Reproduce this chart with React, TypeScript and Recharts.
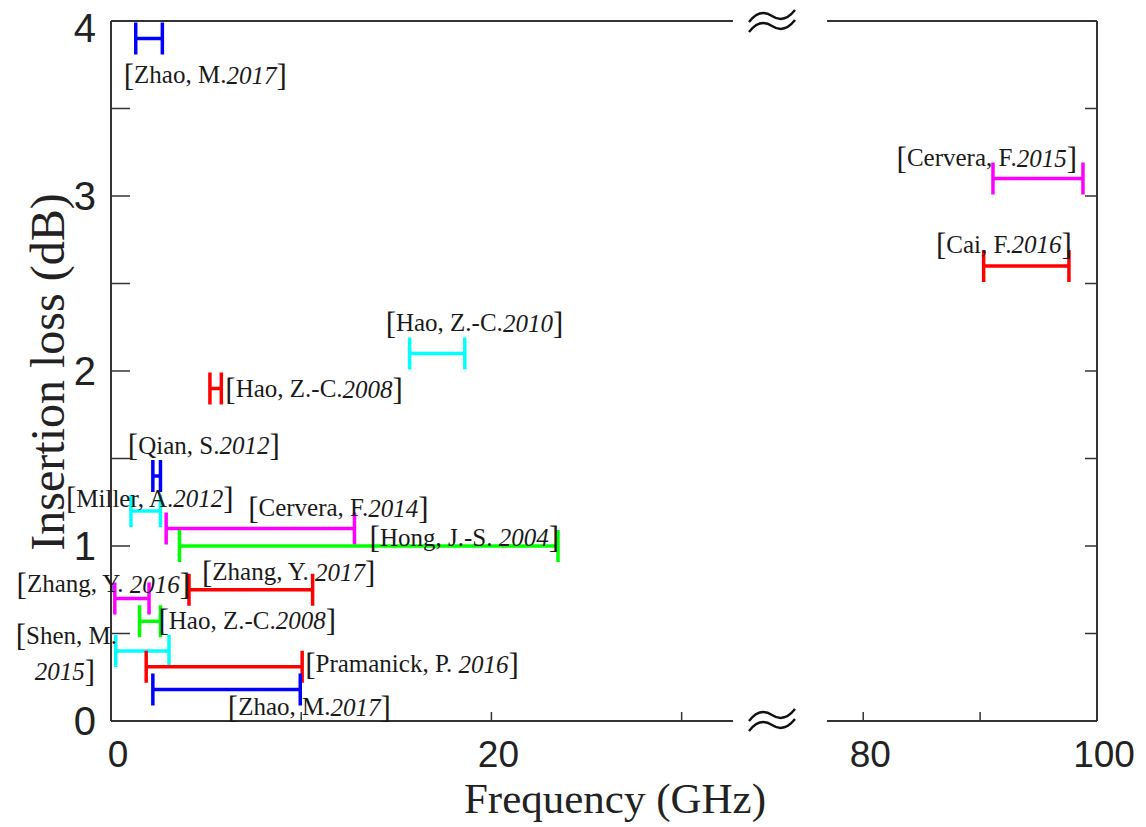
import { ErrorBar, Scatter, ScatterChart, XAxis, YAxis } from "recharts";

// one entry per cited work, same order in every array
const authors = [
  "Zhao, M.", "Cervera, F.", "Cai, F.", "Hao, Z.-C.", "Hao, Z.-C.",
  "Qian, S.", "Miller,  A.", "Cervera, F.", "Hong, J.-S. ", "Zhang, Y. ",
  "Zhang, Y. ", "Hao, Z.-C.", "Shen, M.", "Pramanick, P. ", "Zhao, M.",
];
const years = ["2017", "2015", "2016", "2010", "2008", "2012", "2012", "2014", "2004", "2017", "2016", "2008", "2015", "2016", "2017"];
const lossDb = [3.9, 3.1, 2.6, 2.1, 1.9, 1.4, 1.2, 1.1, 1.0, 0.75, 0.7, 0.57, 0.4, 0.31, 0.18];
const fLowGHz = [1.3, 91.1, 90.3, 15.7, 5.2, 2.2, 1.05, 2.9, 3.6, 4.1, 0.2, 1.5, 0.25, 1.85, 2.2];
const fHighGHz = [2.7, 98.8, 97.6, 18.6, 5.8, 2.6, 2.6, 12.8, 23.5, 10.6, 2.0, 2.6, 3.05, 10.05, 9.95];

const leftDomain = [0, 32.7];
const rightDomain = [76.9, 100];
const leftXTicks = [0, 10, 20, 30];
const leftXLabels = [0, 20];
const rightXTicks = [80, 90, 100];
const rightXLabels = [80, 100];
const yTicks = [0, 0.5, 1, 1.5, 2, 2.5, 3, 3.5, 4];
const yLabels = [0, 1, 2, 3, 4];

const BLUE = "#0000FF";
const RED = "#FF0000";
const MAGENTA = "#FF00FF";
const CYAN = "#00FFFF";
const GREEN = "#00FF00";
const barColors = [BLUE, MAGENTA, RED, CYAN, RED, BLUE, CYAN, MAGENTA, GREEN, RED, MAGENTA, GREEN, CYAN, RED, BLUE];

// where each citation sits relative to its bar (pixels)
const labelPlacement = [
  { ref: "lo", anchor: "start", dx: -12, dy: 36 },
  { ref: "hi", anchor: "end", dx: -6, dy: -21 },
  { ref: "hi", anchor: "end", dx: 3, dy: -22 },
  { ref: "lo", anchor: "start", dx: -24, dy: -31 },
  { ref: "hi", anchor: "start", dx: 4, dy: 0 },
  { ref: "lo", anchor: "start", dx: -25, dy: -31 },
  { ref: "lo", anchor: "start", dx: -65, dy: -13 },
  { ref: "lo", anchor: "start", dx: 82, dy: -21 },
  { ref: "hi", anchor: "end", dx: 1, dy: -9 },
  { ref: "lo", anchor: "start", dx: 13, dy: -18 },
  { ref: "hi", anchor: "end", dx: 41, dy: -15 },
  { ref: "hi", anchor: "start", dx: -2, dy: -1 },
  { ref: "lo", anchor: "start", dx: -100, dy: -16, wrapDx: -81, wrapDy: 20 },
  { ref: "hi", anchor: "start", dx: 3, dy: -3 },
  { ref: "lo", anchor: "start", dx: 75, dy: 17 },
];

const frame = "#333";
const serif = "'Liberation Serif', 'Times New Roman', serif";
const sans = "'Liberation Sans', Arial, sans-serif";
const H = 827;

const Bracket = ({ c }: { c: string }) => <tspan fontSize={31}>{c}</tspan>;

function CiteLabel(props: any) {
  const { cx, cy, payload } = props;
  const i = payload.i;
  const p: any = labelPlacement[i];
  const common = {
    textAnchor: p.anchor,
    dominantBaseline: "central",
    fontFamily: serif,
    fontSize: 25,
    fill: "#1a1a1a",
  } as any;
  if (p.wrapDx !== undefined) {
    return (
      <g>
        <text x={cx + p.dx} y={cy + p.dy} {...common}>
          <Bracket c="[" />
          {authors[i]}
        </text>
        <text x={cx + p.wrapDx} y={cy + p.wrapDy} {...common}>
          <tspan fontStyle="italic">{years[i]}</tspan>
          <Bracket c="]" />
        </text>
      </g>
    );
  }
  return (
    <text x={cx + p.dx} y={cy + p.dy} {...common}>
      <Bracket c="[" />
      {authors[i]}
      <tspan fontStyle="italic">{years[i]}</tspan>
      <Bracket c="]" />
    </text>
  );
}

const makeXTick = (labels: number[], up: number) => (props: any) => {
  const { x, y, payload } = props;
  return (
    <g>
      <line x1={x} y1={y} x2={x} y2={y + up} stroke={frame} strokeWidth={1.5} />
      {labels.includes(payload.value) && (
        <text x={x + 7} y={y + 33} textAnchor="middle" dominantBaseline="central" fontFamily={sans} fontSize={37} fill="#222">
          {payload.value}
        </text>
      )}
    </g>
  );
};

const YTickLeft = (props: any) => {
  const { x, y, payload } = props;
  return (
    <g>
      <line x1={x} y1={y} x2={x + 19} y2={y} stroke={frame} strokeWidth={1.5} />
      {yLabels.includes(payload.value) && (
        <text x={x - 15} y={y + (payload.value === 4 ? 7 : 0)} textAnchor="end" dominantBaseline="central" fontFamily={sans} fontSize={40} fill="#222">
          {payload.value}
        </text>
      )}
    </g>
  );
};

const YTickRight = (props: any) => {
  const { x, y } = props;
  return <line x1={x} y1={y} x2={x - 12} y2={y} stroke={frame} strokeWidth={1.5} />;
};

function Panel({ left, width, margin, domain, xTicks, xLabels, side }: any) {
  const idx = lossDb.map((_, i) => i).filter((i) => fLowGHz[i] >= domain[0] && fHighGHz[i] <= domain[1]);
  const axisLine = { stroke: frame, strokeWidth: 2 };
  return (
    <div style={{ position: "absolute", left, top: 0 }}>
      <ScatterChart width={width} height={H} margin={margin}>
        <XAxis type="number" dataKey="x" domain={domain} ticks={xTicks} interval={0} height={1} tickSize={0} tickMargin={0}
          axisLine={axisLine} tickLine={false} tick={makeXTick(xLabels, -9)} />
        <XAxis xAxisId="top" orientation="top" type="number" dataKey="x" domain={domain} ticks={xTicks} interval={0} height={1}
          tickSize={0} tickMargin={0} axisLine={axisLine} tickLine={false} tick={makeXTick([], 9)} />
        {side === "left" ? (
          <YAxis type="number" dataKey="y" domain={[0, 4]} ticks={yTicks} interval={0} width={1} tickSize={0} tickMargin={0}
            axisLine={axisLine} tickLine={false} tick={YTickLeft} />
        ) : (
          <YAxis orientation="right" type="number" dataKey="y" domain={[0, 4]} ticks={yTicks} interval={0} width={1} tickSize={0}
            tickMargin={0} axisLine={axisLine} tickLine={false} tick={YTickRight} />
        )}
        {idx.map((i) => (
          <Scatter key={`bar-${i}`} data={[{ x: fLowGHz[i], y: lossDb[i], err: [0, fHighGHz[i] - fLowGHz[i]] }]}
            shape={() => <g />} isAnimationActive={false}>
            <ErrorBar dataKey="err" direction="x" width={16} stroke={barColors[i]} strokeWidth={3.5} isAnimationActive={false} />
          </Scatter>
        ))}
        <Scatter
          data={idx.map((i) => ({ x: labelPlacement[i].ref === "lo" ? fLowGHz[i] : fHighGHz[i], y: lossDb[i], i }))}
          shape={(p: any) => <CiteLabel {...p} />}
          isAnimationActive={false}
        />
      </ScatterChart>
    </div>
  );
}

// axis break marks drawn as two wavy strokes
const Wave = ({ cx, cy }: { cx: number; cy: number }) => (
  <g fill="none" stroke="#111" strokeWidth={2.4}>
    <path d={`M ${cx - 23} ${cy} Q ${cx - 12} ${cy - 14} ${cx} ${cy - 6} T ${cx + 23} ${cy - 12}`} />
    <path d={`M ${cx - 23} ${cy + 10} Q ${cx - 12} ${cy - 4} ${cx} ${cy + 4} T ${cx + 23} ${cy - 2}`} />
  </g>
);

export default function App() {
  return (
    <div style={{ position: "absolute", left: 0, top: 0, width: 1146, height: H, background: "#fff" }}>
      <Panel left={0} width={760} margin={{ top: 20, left: 110, right: 27, bottom: 105 }} domain={leftDomain}
        xTicks={leftXTicks} xLabels={leftXLabels} side="left" />
      <Panel left={780} width={366} margin={{ top: 20, left: 47, right: 48, bottom: 105 }} domain={rightDomain}
        xTicks={rightXTicks} xLabels={rightXLabels} side="right" />
      <svg width={1146} height={H} style={{ position: "absolute", left: 0, top: 0, pointerEvents: "none" }}>
        <Wave cx={772} cy={22} />
        <Wave cx={772} cy={721} />
        <text x={615} y={813} textAnchor="middle" fontFamily={serif} fontSize={43} fill="#222">
          Frequency (GHz)
        </text>
        <text transform="translate(64,372) rotate(-90)" textAnchor="middle" fontFamily={serif} fontSize={48} fill="#222">
          Insertion loss (dB)
        </text>
      </svg>
    </div>
  );
}
